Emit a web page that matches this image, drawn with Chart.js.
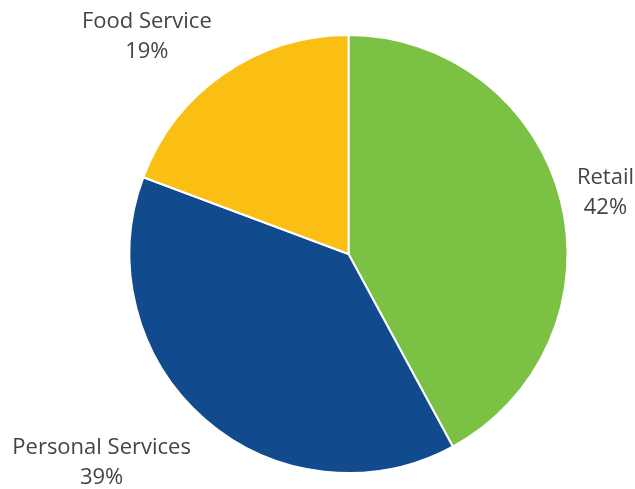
<!DOCTYPE html>
<html>
<head>
<meta charset="utf-8">
<script src="https://cdn.jsdelivr.net/npm/chart.js@4"></script>
<style>
  html, body { margin: 0; padding: 0; background: #fff; }
  #wrap { width: 635px; height: 489px; }
</style>
</head>
<body>
<div id="wrap"><canvas id="myChartpie" width="635" height="489"></canvas></div>
<script>
// data
var categories = ['Retail', 'Personal Services', 'Food Service'];
var shares = [42.1, 38.6, 19.3];
var sliceColors = ['#7bc143', '#114b8e', '#fbbf14'];

// labels outside the pie: name + percent
var outsideLabels = {
    id: 'outsideLabels',
    afterDatasetsDraw: function (chart) {
        var c = chart.ctx;
        var meta = chart.getDatasetMeta(0);
        c.save();
        c.font = '22px "Open Sans"';
        c.fillStyle = '#444444';
        c.textAlign = 'center';
        c.textBaseline = 'middle';
        var lineH = 30;
        meta.data.forEach(function (arc, i) {
            var p = arc.getProps(['x', 'y', 'startAngle', 'endAngle', 'outerRadius'], true);
            var mid = (p.startAngle + p.endAngle) / 2;
            var cos = Math.cos(mid), sin = Math.sin(mid);
            var r = p.outerRadius + 21;
            var ax = p.x + cos * r, ay = p.y + sin * r;
            var lines = [categories[i], Math.round(shares[i]) + '%'];
            var w = Math.max(c.measureText(lines[0]).width, c.measureText(lines[1]).width);
            var h = lines.length * lineH;
            var cx = ax + (cos >= 0 ? 1 : -1) * w / 2;
            // keep inside the canvas
            cx = Math.min(cx, chart.width - w / 2 - 1);
            cx = Math.max(cx, w / 2 + 1);
            var cy = ay + sin * h / 2 + 5;
            c.fillText(lines[0], cx, cy - lineH / 2);
            c.fillText(lines[1], cx, cy + lineH / 2);
        });
        c.restore();
    }
};

var ctxpie = document.getElementById('myChartpie').getContext('2d');
var myChartpie = new Chart(ctxpie, {
    type: 'pie',
    data: {
        labels: categories,
        datasets: [{
            data: shares,
            backgroundColor: sliceColors,
            borderColor: '#ffffff',
            borderWidth: 2
        }]
    },
    options: {
        responsive: false,
        animation: false,
        layout: { padding: { top: 34, bottom: 15, left: 62, right: 0 } },
        plugins: {
            legend: { display: false },
            tooltip: { enabled: false }
        }
    },
    plugins: [outsideLabels]
});
</script>
</body>
</html>
